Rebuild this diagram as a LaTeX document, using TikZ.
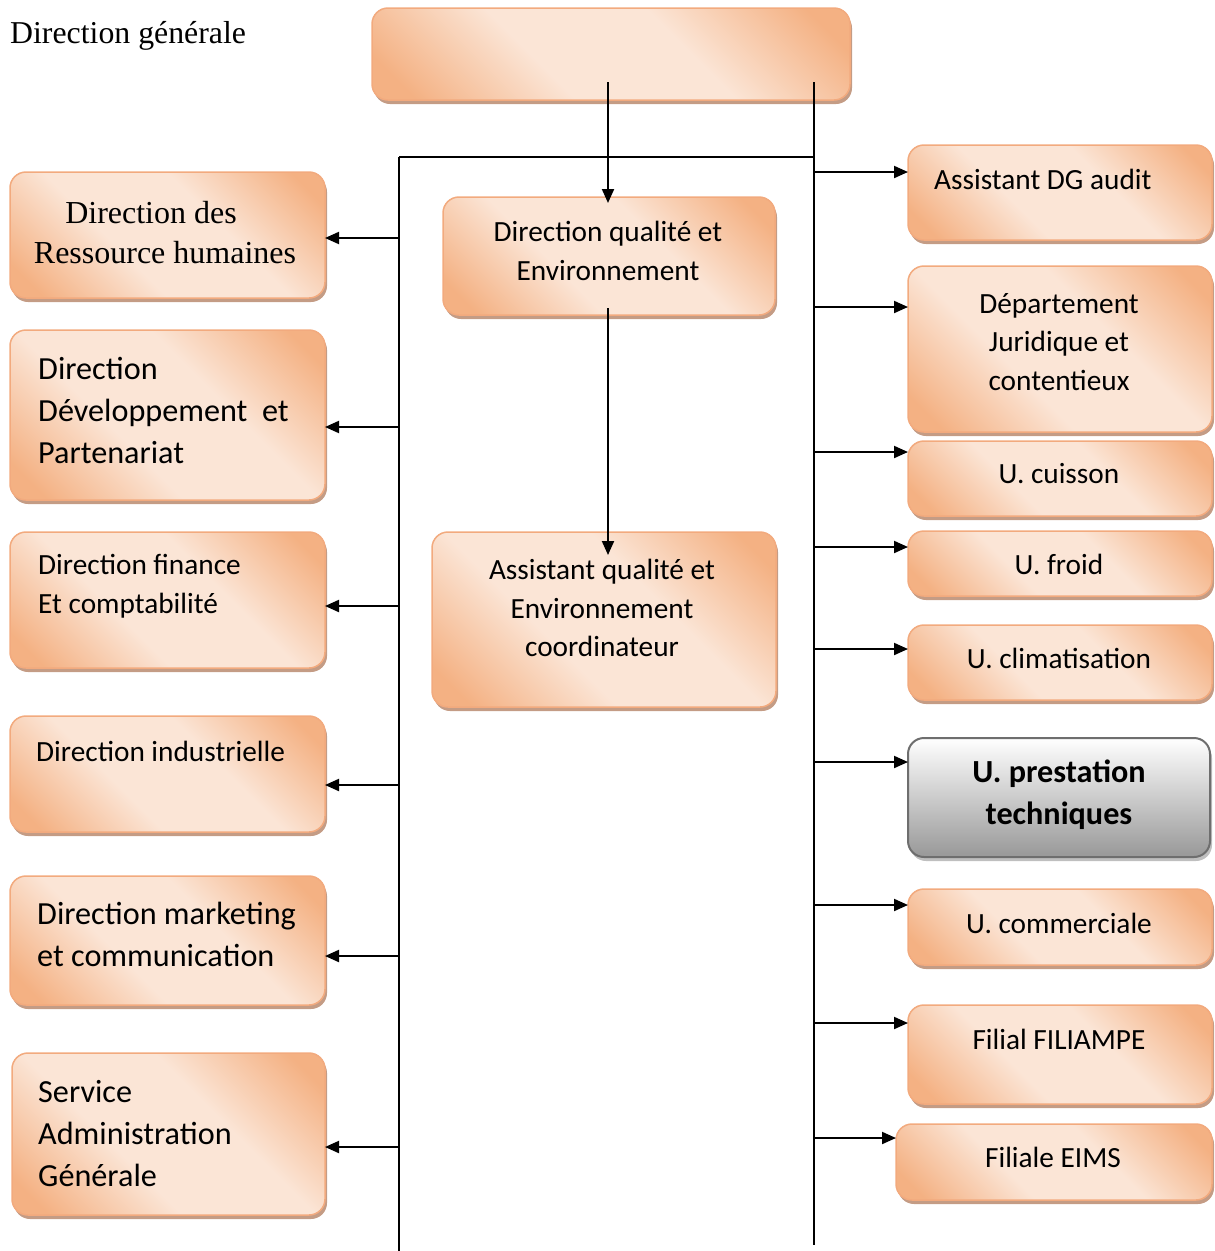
\documentclass[tikz,border=0pt]{standalone}
\usepackage{fontspec}
\setmainfont{Liberation Serif}
\newfontfamily\calfont{Carlito}
\usetikzlibrary{arrows.meta,shadows}
\definecolor{pOr}{HTML}{F4B183}
\definecolor{pLt}{HTML}{FBE5D6}
\definecolor{pLine}{HTML}{F2AA7E}
\definecolor{shc}{HTML}{C49C85}
\definecolor{gLine}{HTML}{6E6E6E}
\definecolor{gBot}{HTML}{989898}
\pgfdeclarehorizontalshading{peach}{100bp}{color(0bp)=(pOr); color(20bp)=(pOr); color(40bp)=(pLt); color(60bp)=(pLt); color(80bp)=(pOr); color(100bp)=(pOr)}
\newcommand\ctxt{\calfont\fontsize{29.3}{38.5}\selectfont}
\newcommand\cbig{\calfont\fontsize{32.2}{42}\selectfont}
\newcommand\stxt{\fontsize{32}{40}\selectfont}
\newcommand\bx[6][pbox]{\node[#1,anchor=north west,minimum width=#5pt,minimum height=#6pt] (#2) at (#3,#4) {};}
\begin{document}
\begin{tikzpicture}[x=1pt,y=-1pt,
  pbox/.style={rectangle, rounded corners=16pt, draw=pLine, line width=1.5pt, shading=peach, shading angle=45,
    drop shadow={shadow xshift=2pt, shadow yshift=-4pt, opacity=1, fill=shc}, inner sep=0pt, outer sep=0pt},
  gbox/.style={rectangle, rounded corners=16pt, draw=gLine, line width=2pt, top color=white, bottom color=gBot,
    drop shadow={shadow xshift=2pt, shadow yshift=-4pt, opacity=1, fill=black!25}, inner sep=0pt, outer sep=0pt},
  ct/.style={inner sep=0pt, align=center, font=\ctxt},
  lt/.style={inner sep=0pt, align=left, anchor=west, font=\ctxt},
  lb/.style={inner sep=0pt, align=left, anchor=west, font=\cbig},
  st/.style={inner sep=0pt, align=center, font=\stxt},
  ln/.style={line width=2pt, black},
  arr/.style={ln, -{Triangle[length=14pt,width=12pt]}}]
\useasboundingbox (0,0) rectangle (1215,1251);
% boxes
\bx{dg}{372}{8}{478}{92}
\bx{drh}{10}{172}{315}{126}
\bx{ddp}{10}{330}{315}{170}
\bx{dfc}{10}{532}{315}{136}
\bx{di}{10}{716}{315}{116}
\bx{dmc}{10}{876}{315}{129}
\bx{sag}{12}{1053}{313}{162}
\bx{dqe}{443}{197}{332}{118}
\bx{aqe}{432}{532}{344}{175}
\bx{adg}{908}{145}{304}{95}
\bx{djc}{908}{266}{304}{166}
\bx{uc}{908}{441}{304}{75}
\bx{uf}{908}{531}{304}{65}
\bx{ucl}{908}{625}{304}{75}
\bx[gbox]{upt}{908}{738}{302}{119}
\bx{uco}{908}{889}{304}{76}
\bx{ff}{908}{1005}{304}{99}
\bx{fe}{896}{1124}{316}{76}
% texts
\node[st, anchor=west, font=\fontsize{31.8}{38}\selectfont] (dgt) at (10,36) {Direction générale};
\node[st] (drht) at (165,233) {Direction des\rule{28pt}{0pt}\\Ressource humaines};
\node[lb] (ddpt) at (38,410) {Direction\\Développement\ \ et\\Partenariat};
\node[lt] (dfct) at (38,586) {Direction finance\\Et comptabilité};
\node[lt] (dit) at (36,751) {Direction industrielle};
\node[lb] (dmct) at (37,934) {Direction marketing\\et communication};
\node[lb] (sagt) at (38,1134) {Service\\Administration\\Générale};
\node[ct] (dqet) at (608,251) {Direction qualité et\\Environnement};
\node[ct] (aqet) at (602,608) {Assistant qualité et\\Environnement\\coordinateur};
\node[lt] (adgt) at (934,179) {Assistant DG audit};
\node[ct] (djct) at (1059,342) {Département\\Juridique et\\contentieux};
\node[ct] (uct) at (1059,474) {U. cuisson};
\node[ct] (uft) at (1059,564) {U. froid};
\node[ct] (uclt) at (1059,658) {U. climatisation};
\node[ct, font=\cbig\bfseries] (uptt) at (1059,795) {U. prestation\\techniques};
\node[ct] (ucot) at (1059,923) {U. commerciale};
\node[ct] (fft) at (1059,1039) {Filial FILIAMPE};
\node[ct] (fet) at (1053,1157) {Filiale EIMS};
% trunks
\coordinate (ltop) at (399,157);
\coordinate (lbot) at (399,1251);
\coordinate (rtop) at (814,82);
\coordinate (rbot) at (814,1245);
\draw[ln] (ltop) -- (lbot);
\draw[ln] (ltop) -- (ltop -| rtop);
\draw[ln] (rtop) -- (rbot);
% centre chain
\coordinate (c0) at (608,82);
\coordinate (c1) at (608,203);
\coordinate (c2) at (608,308);
\coordinate (c3) at (608,555);
\draw[arr] (c0) -- (c1);
\draw[arr] (c2) -- (c3);
% left arrows
\foreach \b/\yy in {drh/238, ddp/427, dfc/606, di/785, dmc/956, sag/1147}{
  \coordinate (L\b) at (399,\yy);
  \draw[arr] (L\b) -- (L\b -| \b.east);
}
% right arrows
\foreach \b/\yy in {adg/172, djc/307, uc/452, uf/547, ucl/649, upt/762, uco/905, ff/1023, fe/1138}{
  \coordinate (R\b) at (814,\yy);
  \draw[arr] (R\b) -- (R\b -| \b.west);
}
\end{tikzpicture}
\end{document}
